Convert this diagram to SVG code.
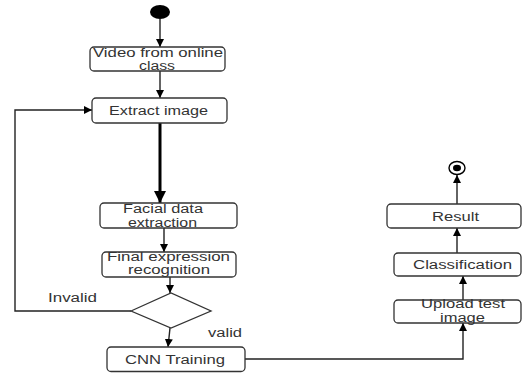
<svg xmlns="http://www.w3.org/2000/svg" width="522" height="373" viewBox="0 0 522 373">
  <style>
    .box { fill: #ffffff; stroke: #333333; stroke-width: 1.3; }
    .lbl { font-family: "Liberation Sans", Arial, sans-serif; font-size: 12px; fill: #333333; }
    .edge { fill: none; stroke: #222222; stroke-width: 1.4; }
    .thick { fill: none; stroke: #000000; stroke-width: 3; }
  </style>
  <defs>
    <marker id="arrow" viewBox="0 0 10 10" refX="10" refY="5" markerWidth="8" markerHeight="8" markerUnits="userSpaceOnUse" orient="auto">
      <path d="M0,0 L10,5 L0,10 Z" fill="#000000"/>
    </marker>
    <marker id="arrowBig" viewBox="0 0 10 10" refX="10" refY="5" markerWidth="4" markerHeight="4" orient="auto">
      <path d="M0,0 L10,5 L0,10 Z" fill="#000000"/>
    </marker>
  </defs>
  <rect width="522" height="373" fill="#ffffff"/>

  <!-- connectors -->
  <g id="connectors">
    <line class="edge" x1="160" y1="19" x2="160" y2="47" marker-end="url(#arrow)"/>
    <line class="edge" x1="160" y1="71" x2="160" y2="98" marker-end="url(#arrow)"/>
    <line class="thick" x1="160" y1="123" x2="160" y2="203" marker-end="url(#arrowBig)"/>
    <line class="edge" x1="164" y1="228" x2="164" y2="252" marker-end="url(#arrow)"/>
    <line class="edge" x1="170" y1="277" x2="170" y2="293" marker-end="url(#arrow)"/>
    <polyline class="edge" points="131,311 15,311 15,110 92,110" marker-end="url(#arrow)"/>
    <line class="edge" x1="170" y1="328" x2="168" y2="347" marker-end="url(#arrow)"/>
    <polyline class="edge" points="245,359 463,359 463,323" marker-end="url(#arrow)"/>
    <line class="edge" x1="463" y1="300" x2="463" y2="276" marker-end="url(#arrow)"/>
    <line class="edge" x1="457" y1="253" x2="457" y2="228" marker-end="url(#arrow)"/>
    <line class="edge" x1="457" y1="204" x2="457" y2="175" marker-end="url(#arrow)"/>
    <text class="lbl" x="48" y="301.5" textLength="49" lengthAdjust="spacingAndGlyphs">Invalid</text>
    <text class="lbl" x="208" y="337" textLength="34" lengthAdjust="spacingAndGlyphs">valid</text>
  </g>

  <!-- start -->
  <g id="start">
    <ellipse cx="160" cy="12" rx="10" ry="7" fill="#000000"/>
  </g>

  <g id="video">
    <rect class="box" x="90" y="47" width="135" height="24" rx="4"/>
    <text class="lbl" x="93" y="57" textLength="130" lengthAdjust="spacingAndGlyphs">Video from online</text>
    <text class="lbl" x="139" y="70" textLength="36" lengthAdjust="spacingAndGlyphs">class</text>
  </g>

  <g id="extract">
    <rect class="box" x="92" y="98" width="135" height="25" rx="4"/>
    <text class="lbl" x="109" y="114.5" textLength="99" lengthAdjust="spacingAndGlyphs">Extract image</text>
  </g>

  <g id="facial">
    <rect class="box" x="100" y="203" width="137" height="25" rx="4"/>
    <text class="lbl" x="123" y="213" textLength="80" lengthAdjust="spacingAndGlyphs">Facial data</text>
    <text class="lbl" x="128" y="226.5" textLength="69" lengthAdjust="spacingAndGlyphs">extraction</text>
  </g>

  <g id="expression">
    <rect class="box" x="102" y="252" width="134" height="25" rx="4"/>
    <text class="lbl" x="107" y="261" textLength="123" lengthAdjust="spacingAndGlyphs">Final expression</text>
    <text class="lbl" x="128" y="273.5" textLength="82" lengthAdjust="spacingAndGlyphs">recognition</text>
  </g>

  <g id="decision">
    <polygon class="box" points="131,311 171,293 211,311 171,328"/>
  </g>

  <g id="cnn">
    <rect class="box" x="107" y="347" width="138" height="24.5" rx="4"/>
    <text class="lbl" x="125" y="364" textLength="100" lengthAdjust="spacingAndGlyphs">CNN Training</text>
  </g>

  <g id="upload">
    <rect class="box" x="394" y="300" width="127" height="23" rx="4"/>
    <text class="lbl" x="421" y="308" textLength="84" lengthAdjust="spacingAndGlyphs">Upload test</text>
    <text class="lbl" x="440" y="321.5" textLength="45" lengthAdjust="spacingAndGlyphs">image</text>
  </g>

  <g id="classification">
    <rect class="box" x="394" y="253" width="127" height="23" rx="4"/>
    <text class="lbl" x="413" y="269" textLength="99" lengthAdjust="spacingAndGlyphs">Classification</text>
  </g>

  <g id="result">
    <rect class="box" x="387" y="204" width="134" height="24" rx="4"/>
    <text class="lbl" x="432" y="220.5" textLength="47" lengthAdjust="spacingAndGlyphs">Result</text>
  </g>

  <!-- end -->
  <g id="end">
    <ellipse cx="457" cy="168" rx="8" ry="6.5" fill="#ffffff" stroke="#000000" stroke-width="1.4"/>
    <ellipse cx="457" cy="168" rx="4" ry="3.2" fill="#000000"/>
  </g>
</svg>
